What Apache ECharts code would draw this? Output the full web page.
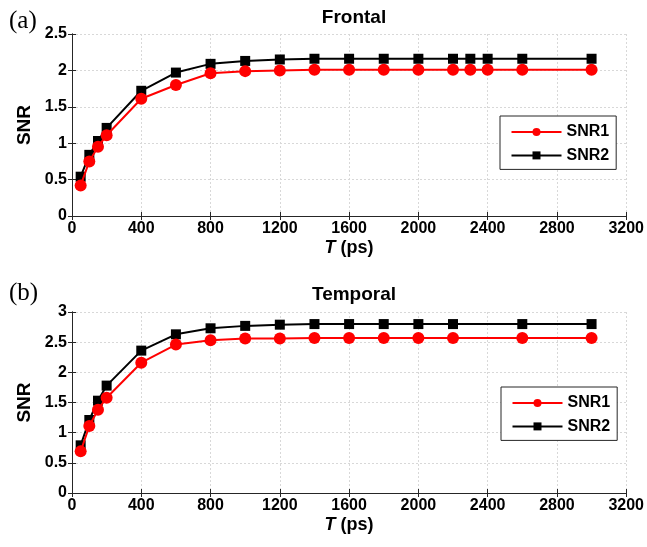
<!DOCTYPE html>
<html><head><meta charset="utf-8">
<script src="https://cdn.jsdelivr.net/npm/echarts@6/dist/echarts.min.js"></script>
<style>html,body{margin:0;padding:0;background:#fff}#c{width:647px;height:547px}</style>
</head><body><div id="c"></div>
<script>
const tFrontal = [50,100,150,200,400,600,800,1000,1200,1400,1600,1800,2000,2200,2300,2400,2600,3000];
const frontalSNR1 = [0.42,0.75,0.95,1.11,1.61,1.80,1.96,1.99,2.00,2.01,2.01,2.01,2.01,2.01,2.01,2.01,2.01,2.01];
const frontalSNR2 = [0.54,0.84,1.03,1.21,1.72,1.97,2.09,2.13,2.15,2.16,2.16,2.16,2.16,2.16,2.16,2.16,2.16,2.16];
const tTemporal = [50,100,150,200,400,600,800,1000,1200,1400,1600,1800,2000,2200,2600,3000];
const temporalSNR1 = [0.69,1.11,1.38,1.58,2.16,2.46,2.53,2.56,2.56,2.57,2.57,2.57,2.57,2.57,2.57,2.57];
const temporalSNR2 = [0.79,1.21,1.53,1.78,2.36,2.63,2.73,2.77,2.79,2.80,2.80,2.80,2.80,2.80,2.80,2.80];
const panelTitles = ['Frontal','Temporal'];
const panelTags = ['(a)','(b)'];
const seriesNames = ['SNR1','SNR2'];

const chart = echarts.init(document.getElementById('c'));
const font = 'Liberation Sans, Arial, sans-serif';
const frame = {show:true, lineStyle:{color:'#262626', width:1}};
const grids = [
  {left:72, right:20, top:34, height:182},
  {left:72, right:20, top:312, height:181}
];
const yCfg = [{max:2.5, interval:0.5},{max:3, interval:0.5}];
const fmt = v => String(v);
const xAxes = [], yAxes = [];
[0,1].forEach(g=>{
  xAxes.push({
    type:'value', gridIndex:g, min:0, max:3200, interval:400, position:'bottom',
    axisLine:frame, axisTick:{inside:true, length:4, lineStyle:{color:'#262626'}},
    axisLabel:{color:'#000', fontFamily:font, fontWeight:'bold', fontSize:16, margin:5, formatter:fmt},
    splitLine:{show:true, lineStyle:{color:'#d8d8d8', type:[2,2], width:1}},
    name:'{i|T} (ps)', nameLocation:'middle', nameGap:23,
    nameTextStyle:{color:'#000', fontFamily:font, fontWeight:'bold', fontSize:18,
      rich:{i:{fontStyle:'italic', fontWeight:'bold', fontSize:18, fontFamily:font, color:'#000'}}}
  });
  xAxes.push({
    type:'value', gridIndex:g, min:0, max:3200, interval:400, position:'top',
    axisLine:frame, axisTick:{inside:true, length:4, lineStyle:{color:'#262626'}},
    axisLabel:{show:false}, splitLine:{show:false}
  });
  yAxes.push({
    type:'value', gridIndex:g, min:0, max:yCfg[g].max, interval:yCfg[g].interval, position:'left',
    axisLine:frame, axisTick:{show:true, inside:true, length:4, lineStyle:{color:'#262626'}},
    axisLabel:{color:'#000', fontFamily:font, fontWeight:'bold', fontSize:16, margin:5, formatter:fmt},
    splitLine:{show:true, lineStyle:{color:'#d8d8d8', type:[2,2], width:1}},
    name:'SNR', nameLocation:'middle', nameGap:38,
    nameTextStyle:{color:'#000', fontFamily:font, fontWeight:'bold', fontSize:19}
  });
  yAxes.push({
    type:'value', gridIndex:g, min:0, max:yCfg[g].max, interval:yCfg[g].interval, position:'right',
    axisLine:frame, axisTick:{show:true, inside:true, length:4, lineStyle:{color:'#262626'}},
    axisLabel:{show:false}, splitLine:{show:false}
  });
});
function mk(name, xs, ys, g, red){
  return {
    name, type:'line', xAxisIndex:g*2, yAxisIndex:g*2,
    data: xs.map((x,i)=>[x, ys[i]]),
    symbol: red ? 'circle' : 'rect', symbolSize: red ? 12 : 10,
    lineStyle:{color: red ? '#ff0000' : '#000', width:2},
    itemStyle:{color: red ? '#ff0000' : '#000'},
    emphasis:{disabled:true}, animation:false, z: red ? 3 : 2
  };
}
function legend(left, top){
  return {data:seriesNames, orient:'vertical', left, top, itemWidth:50, itemHeight:10, itemGap:7.4,
     padding:[8,7,6,10.5], borderColor:'#262626', borderWidth:1, backgroundColor:'#fff', selectedMode:false,
     textStyle:{fontFamily:font, fontWeight:'bold', fontSize:16, color:'#000', width:46, height:16}};
}
const option = {
  animation:false,
  grid: grids, xAxis: xAxes, yAxis: yAxes,
  title: [
    {text:panelTitles[0], left:349, top:3, textAlign:'center', textStyle:{fontFamily:font, fontWeight:'bold', fontSize:19, color:'#000'}},
    {text:panelTitles[1], left:349, top:280, textAlign:'center', textStyle:{fontFamily:font, fontWeight:'bold', fontSize:19, color:'#000'}},
    {text:panelTags[0], left:4, top:4, textStyle:{fontFamily:'Liberation Serif, Times New Roman, serif', fontWeight:'normal', fontSize:25, color:'#000'}},
    {text:panelTags[1], left:4, top:276, textStyle:{fontFamily:'Liberation Serif, Times New Roman, serif', fontWeight:'normal', fontSize:25, color:'#000'}}
  ],
  legend: [legend(500, 116), legend(501, 387)],
  series: [
    mk(seriesNames[1], tFrontal, frontalSNR2, 0, false),
    mk(seriesNames[0], tFrontal, frontalSNR1, 0, true),
    mk(seriesNames[1], tTemporal, temporalSNR2, 1, false),
    mk(seriesNames[0], tTemporal, temporalSNR1, 1, true)
  ]
};
chart.setOption(option);
</script></body></html>
